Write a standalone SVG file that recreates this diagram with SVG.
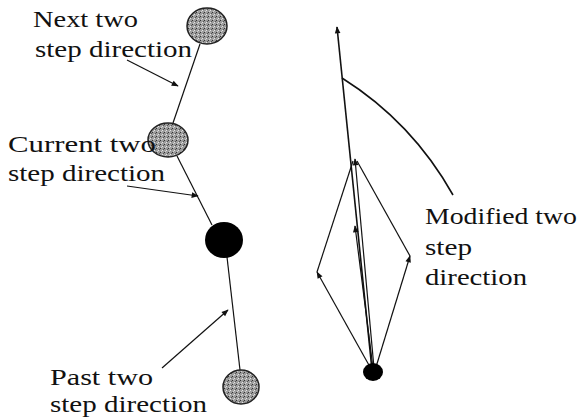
<svg xmlns="http://www.w3.org/2000/svg" width="579" height="419" viewBox="0 0 579 419">
<style>
text{font-size:24px;fill:#111}
.ln{stroke:#111;stroke-width:1.2;fill:none}
.ar{stroke:#111;stroke-width:1.2;fill:none;marker-end:url(#ah)}
.thick{stroke-width:1.6}
.st{fill:url(#stip);stroke:#222;stroke-width:1.5}
</style>
<defs>
<marker id="ah" viewBox="0 0 10 10" refX="9" refY="5" markerWidth="8" markerHeight="7" markerUnits="userSpaceOnUse" orient="auto">
<path d="M0,1 L10,5 L0,9 Z" fill="#111"/>
</marker>
<pattern id="stip" width="4" height="4" patternUnits="userSpaceOnUse">
<rect width="4" height="4" fill="#9c9c9c"/>
<rect x="0" y="0" width="1" height="1" fill="#333"/>
<rect x="2" y="2" width="1" height="1" fill="#e4e4e4"/>
<rect x="3" y="1" width="1" height="1" fill="#555"/>
<rect x="1" y="3" width="1" height="1" fill="#d0d0d0"/>
</pattern>
</defs>
<rect width="579" height="419" fill="#fff"/>
<g id="connectors">
<line class="ln" x1="200" y1="44" x2="173" y2="123"/>
<line class="ln" x1="177" y1="156" x2="212" y2="225"/>
<line class="ln" x1="227" y1="257" x2="240" y2="370"/>
<line class="ar" x1="127" y1="60" x2="178" y2="86"/>
<line class="ar" x1="127" y1="186" x2="198" y2="196"/>
<line class="ar" x1="162" y1="368" x2="228" y2="310"/>
<line class="ar thick" x1="372" y1="370" x2="337" y2="27"/>
<path class="ln thick" d="M342,78 Q412,122 453,195"/>
<line class="ar" x1="370" y1="367" x2="317" y2="272"/>
<line class="ar" x1="376" y1="367" x2="410" y2="256"/>
<line class="ln" x1="317" y1="272" x2="353" y2="161"/>
<line class="ln" x1="410" y1="256" x2="357" y2="161"/>
<line class="ar" x1="374" y1="368" x2="355" y2="159"/>
<line class="ar" x1="373" y1="368" x2="355" y2="226"/>
</g>
<g id="node-next"><ellipse class="st" cx="207" cy="26" rx="20" ry="18"/></g>
<g id="node-current"><ellipse class="st" cx="168" cy="140" rx="20" ry="17"/></g>
<g id="node-now"><ellipse cx="224" cy="240" rx="19" ry="18" fill="#000"/></g>
<g id="node-past"><ellipse class="st" cx="241" cy="387" rx="18" ry="17"/></g>
<g id="node-origin"><ellipse cx="373" cy="372" rx="10" ry="9" fill="#000"/></g>
<g id="labels" font-family="'Liberation Serif', 'DejaVu Serif', 'Times New Roman', Tinos, Times, serif">
<text x="33" y="27" textLength="105" lengthAdjust="spacingAndGlyphs">Next two</text>
<text x="35" y="57" textLength="157" lengthAdjust="spacingAndGlyphs">step direction</text>
<text x="8" y="152" textLength="148" lengthAdjust="spacingAndGlyphs">Current two</text>
<text x="8" y="181" textLength="157" lengthAdjust="spacingAndGlyphs">step direction</text>
<text x="50" y="385" textLength="103" lengthAdjust="spacingAndGlyphs">Past two</text>
<text x="50" y="412" textLength="157" lengthAdjust="spacingAndGlyphs">step direction</text>
<text x="425" y="224" textLength="152" lengthAdjust="spacingAndGlyphs">Modified two</text>
<text x="425" y="255" textLength="47" lengthAdjust="spacingAndGlyphs">step</text>
<text x="425" y="285" textLength="102" lengthAdjust="spacingAndGlyphs">direction</text>
</g>
</svg>
